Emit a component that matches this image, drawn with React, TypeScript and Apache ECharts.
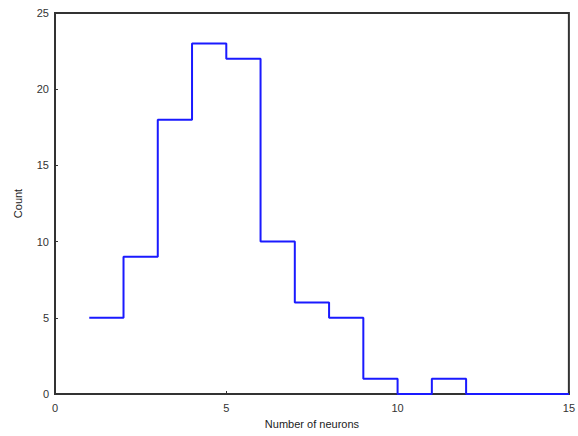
import React, { useEffect, useRef } from "react";
import * as echarts from "echarts";

const binEdges = [1, 2, 3, 4, 5, 6, 7, 8, 9, 10, 11, 12, 15];
const counts = [5, 9, 18, 23, 22, 10, 6, 5, 1, 0, 1, 0, 0];
const xTicks = [0, 5, 10, 15];
const yTicks = [0, 5, 10, 15, 20, 25];

export default function App() {
  const ref = useRef<HTMLDivElement>(null);
  useEffect(() => {
    if (!ref.current) return;
    const chart = echarts.init(ref.current, undefined, { renderer: "svg" });
    const font = "'Liberation Sans', Arial, sans-serif";
    chart.setOption({
      animation: false,
      backgroundColor: "#ffffff",
      grid: {
        left: 55,
        right: 7,
        top: 13,
        bottom: 42,
        show: true,
        borderColor: "#333333",
        borderWidth: 2,
      },
      xAxis: {
        type: "value",
        min: xTicks[0],
        max: xTicks[xTicks.length - 1],
        interval: 5,
        name: "Number of neurons",
        nameLocation: "middle",
        nameGap: 24,
        nameTextStyle: { fontFamily: font, fontSize: 11, color: "#222" },
        axisLine: { show: true, lineStyle: { color: "#333", width: 2 } },
        axisTick: { show: true, inside: true, length: 3, lineStyle: { color: "#333" } },
        axisLabel: { fontFamily: font, fontSize: 11, color: "#333", margin: 8 },
        splitLine: { show: false },
      },
      yAxis: {
        type: "value",
        min: yTicks[0],
        max: yTicks[yTicks.length - 1],
        interval: 5,
        name: "Count",
        nameLocation: "middle",
        nameGap: 32,
        nameRotate: 90,
        nameTextStyle: { fontFamily: font, fontSize: 11, color: "#222" },
        axisLine: { show: true, lineStyle: { color: "#333", width: 2 } },
        axisTick: { show: true, inside: true, length: 3, lineStyle: { color: "#333" } },
        axisLabel: { fontFamily: font, fontSize: 11, color: "#333", margin: 6 },
        splitLine: { show: false },
      },
      series: [
        {
          type: "line",
          step: "end",
          data: binEdges.map((e, i) => [e, counts[i]]),
          showSymbol: false,
          symbol: "none",
          lineStyle: { color: "#1a1aff", width: 2 },
          z: 5,
        },
      ],
    });
    return () => chart.dispose();
  }, []);
  return <div ref={ref} style={{ width: 578, height: 436, position: "absolute", left: 0, top: 0 }} />;
}
